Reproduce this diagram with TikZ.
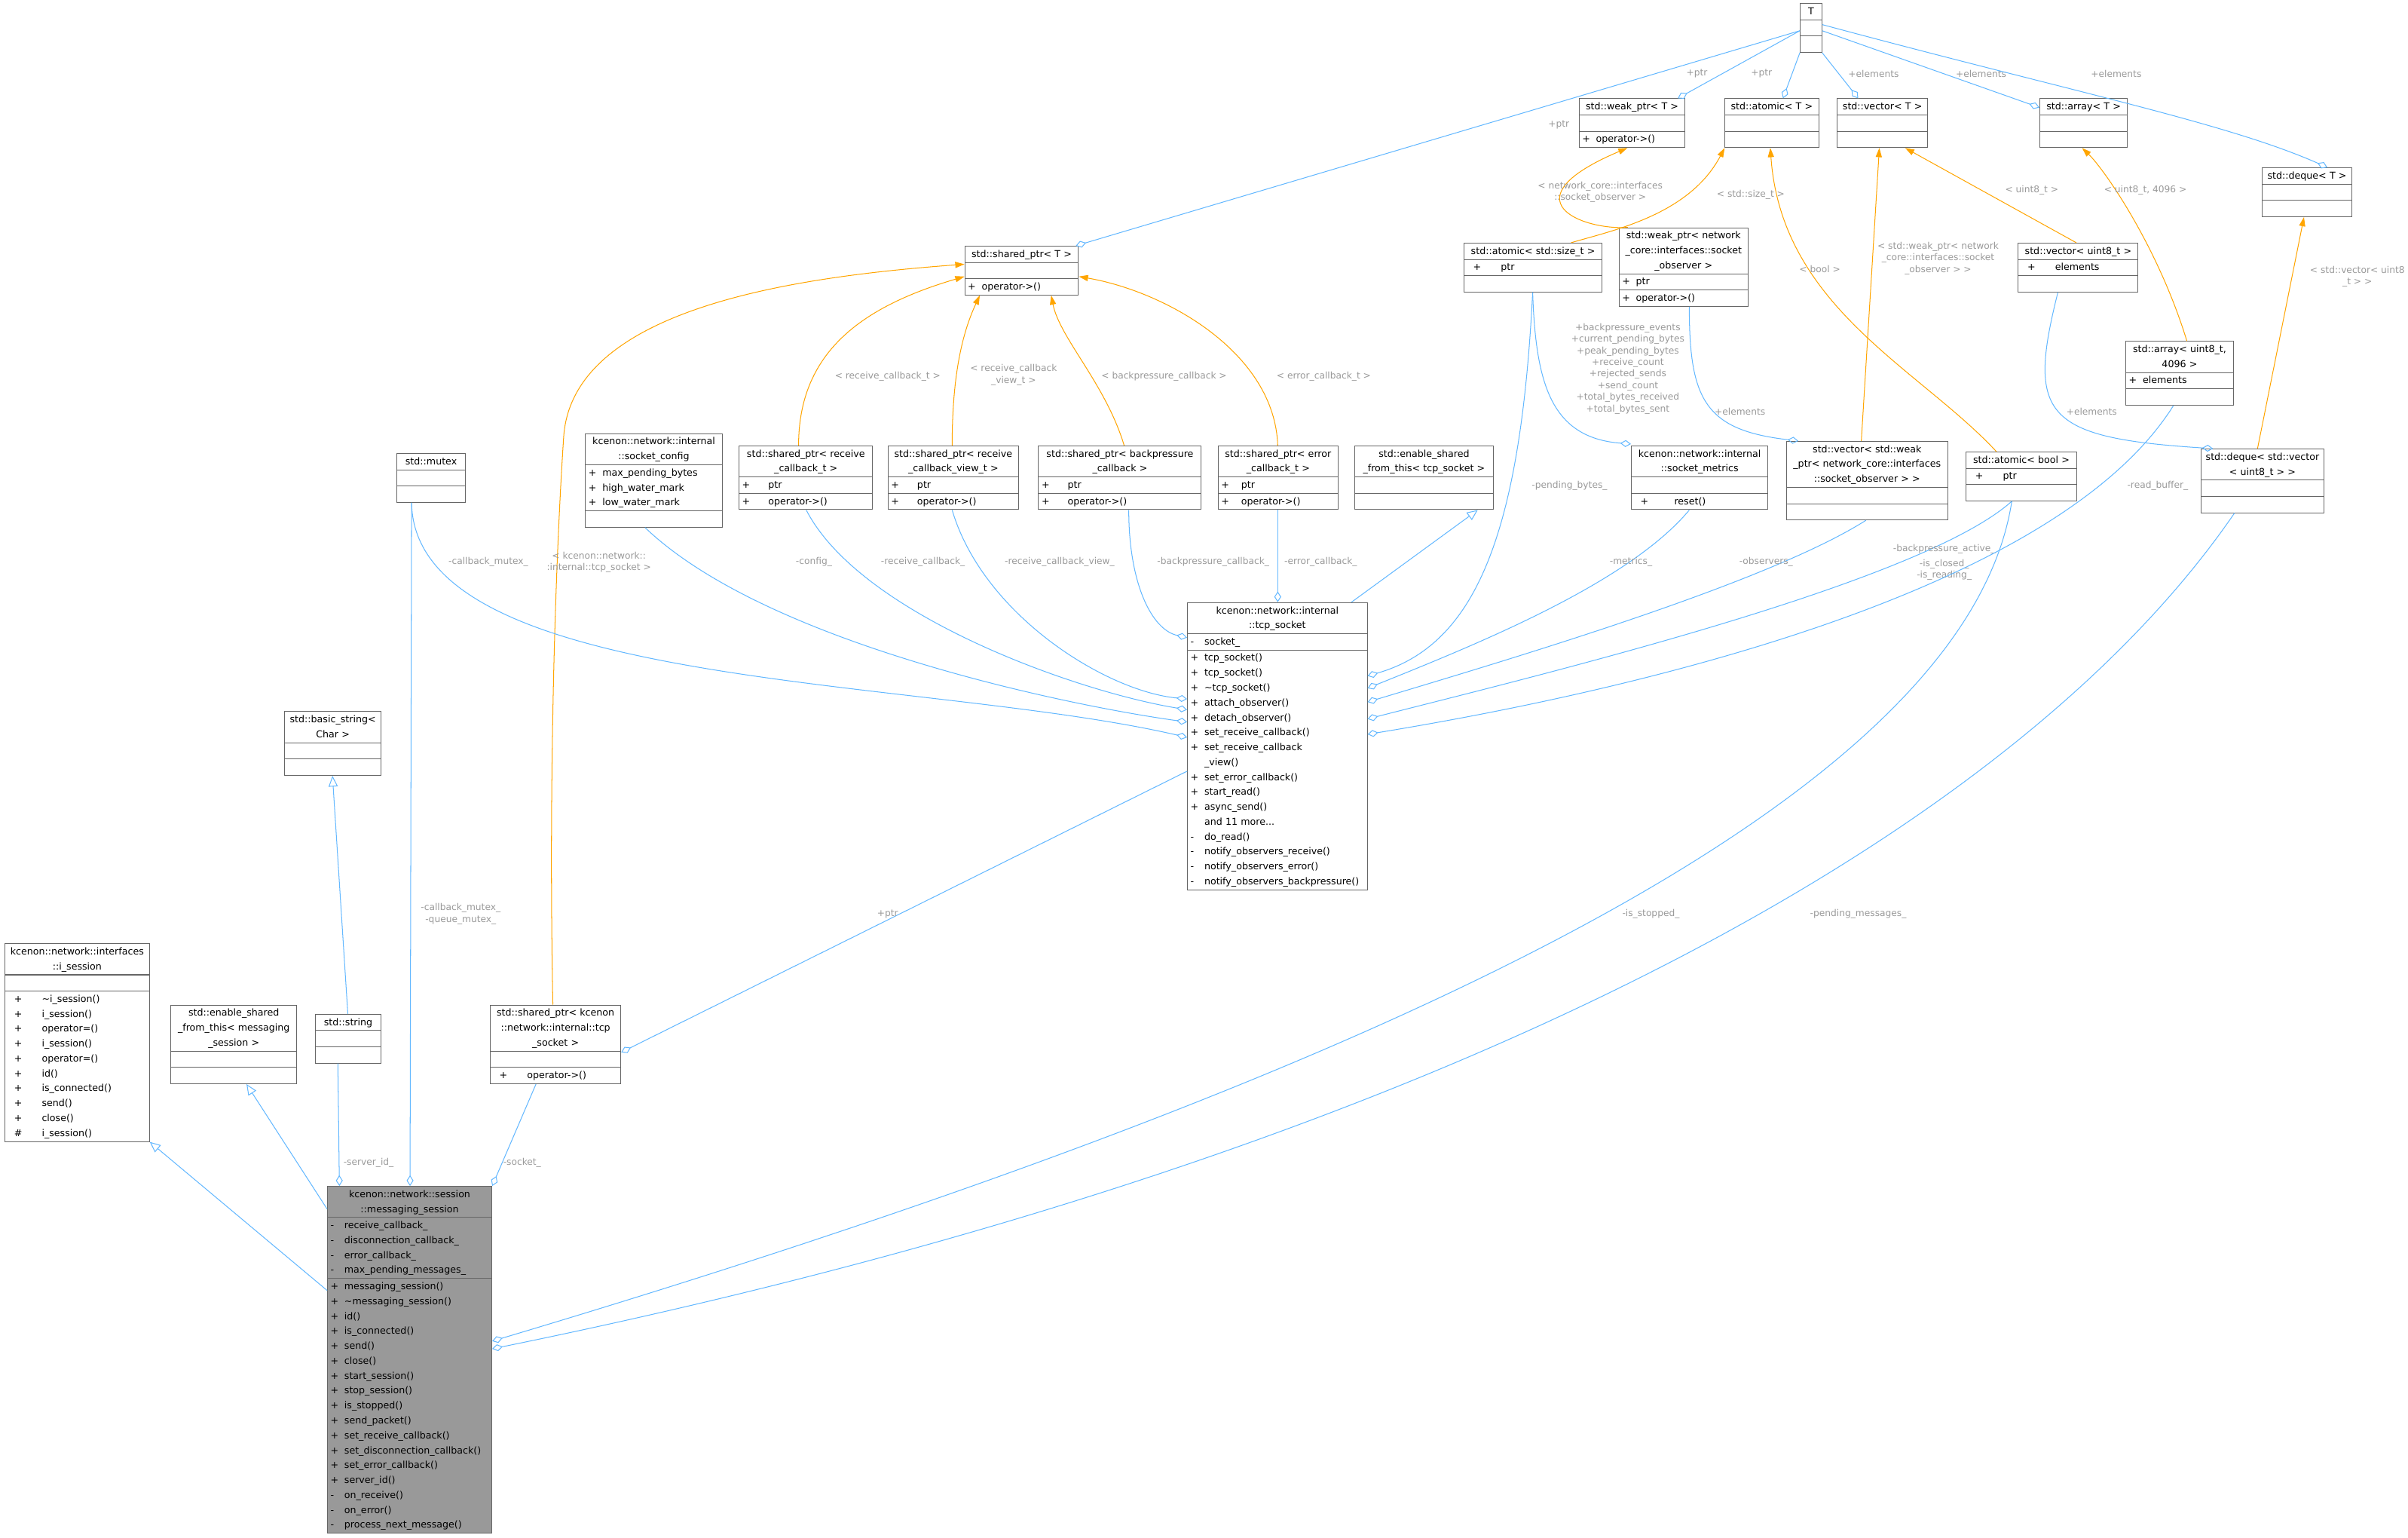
\documentclass[tikz,border=0pt]{standalone}
\usepackage{fontspec}
\setmainfont{DejaVu Sans}
\usetikzlibrary{shapes.multipart,arrows.meta}
\definecolor{ublue}{HTML}{63B8FF}
\definecolor{uorange}{HTML}{FFA500}
\definecolor{labgray}{HTML}{9A9A9A}
\definecolor{bordergray}{HTML}{666666}
\definecolor{msgray}{HTML}{999999}
\newcommand\m[1]{\makebox[9pt][l]{#1}}
\newcommand\mm[1]{\makebox[22pt][l]{\hspace{4pt}#1}}
\newcommand\cls[8][]{\node[cls,#1,text width=#5pt-4pt] (#2) at (#3,#4) {\centering\strut#6\strut\par\nodepart{two}\raggedright\strut#7\strut\par\nodepart{three}\raggedright\strut#8\strut\par};}
\tikzset{
 cls/.style={rectangle split, rectangle split parts=3, draw=bordergray, fill=white, line width=0.5pt,
   anchor=north west, inner xsep=2pt, inner ysep=0.2pt, font=\fontsize{6.2}{9.7}\selectfont},
 use/.style={draw=ublue, line width=0.5pt, -{Diamond[open,length=7pt,width=4.5pt]}},
 tmpl/.style={draw=uorange, line width=0.5pt, -{Triangle[length=6pt,width=4pt]}},
 inh/.style={draw=ublue, line width=0.5pt, -{Triangle[open,length=7pt,width=6pt]}},
 lab/.style={text=labgray, font=\fontsize{6}{7.6}\selectfont, align=center, inner sep=0.5pt}
}
\begin{document}
\begin{tikzpicture}[x=1pt,y=-1pt]
\useasboundingbox[fill=white] (0,0) rectangle (1568,1000.7);
% ---- classes
\cls{T}{1172}{2}{14}{T}{}{}
\cls{wpT}{1028}{64}{69}{std::weak\_ptr< T >}{}{\m{+}operator->()}
\cls{atT}{1123}{64}{61}{std::atomic< T >}{}{}
\cls{vecT}{1196}{64}{59}{std::vector< T >}{}{}
\cls{arrT}{1328}{64}{57}{std::array< T >}{}{}
\cls{dqT}{1473}{109}{58}{std::deque< T >}{}{}
\cls{spT}{628}{160}{74}{std::shared\_ptr< T >}{}{\m{+}operator->()}
\cls{atsz}{953}{158}{90}{std::atomic< std::size\_t >}{\mm{+}ptr}{}
\cls{wpobs}{1054}{148}{84}{std::weak\_ptr< network\\\_core::interfaces::socket\\\_observer >}{\m{+}ptr}{\m{+}operator->()}
\cls{vecu8}{1314}{158}{78}{std::vector< uint8\_t >}{\mm{+}elements}{}
\cls{arru8}{1384}{222}{70}{std::array< uint8\_t,\\4096 >}{\m{+}elements}{}
\cls{dqvec}{1433}{292}{80}{std::deque< std::vector\\< uint8\_t > >}{}{}
\cls{cfg}{381}{282}{89}{kcenon::network::internal\\::socket\_config}{\m{+}max\_pending\_bytes\\\m{+}high\_water\_mark\\\m{+}low\_water\_mark}{}
\cls{sprc}{481}{290}{87}{std::shared\_ptr< receive\\\_callback\_t >}{\m{+}\hspace{8pt}ptr}{\m{+}\hspace{8pt}operator->()}
\cls{sprv}{578}{290}{85}{std::shared\_ptr< receive\\\_callback\_view\_t >}{\m{+}\hspace{8pt}ptr}{\m{+}\hspace{8pt}operator->()}
\cls{spbp}{676}{290}{106}{std::shared\_ptr< backpressure\\\_callback >}{\m{+}\hspace{8pt}ptr}{\m{+}\hspace{8pt}operator->()}
\cls{sperr}{793}{290}{78}{std::shared\_ptr< error\\\_callback\_t >}{\m{+}\hspace{4pt}ptr}{\m{+}\hspace{4pt}operator->()}
\cls{esft}{882}{290}{90}{std::enable\_shared\\\_from\_this< tcp\_socket >}{}{}
\cls{mutex}{258}{295}{45}{std::mutex}{}{}
\cls{metrics}{1062}{290}{89}{kcenon::network::internal\\::socket\_metrics}{}{\mm{+}\hspace{4pt}reset()}
\cls{vecobs}{1163}{287}{105}{std::vector< std::weak\\\_ptr< network\_core::interfaces\\::socket\_observer > >}{}{}
\cls{atb}{1280}{294}{72}{std::atomic< bool >}{\mm{+}ptr}{}
\cls{tcp}{773}{392}{117}{kcenon::network::internal\\::tcp\_socket}{\m{-}socket\_}{\m{+}tcp\_socket()\\\m{+}tcp\_socket()\\\m{+}\textasciitilde tcp\_socket()\\\m{+}attach\_observer()\\\m{+}detach\_observer()\\\m{+}set\_receive\_callback()\\\m{+}set\_receive\_callback\\\m{}\_view()\\\m{+}set\_error\_callback()\\\m{+}start\_read()\\\m{+}async\_send()\\\m{}and 11 more...\\\m{-}do\_read()\\\m{-}notify\_observers\_receive()\\\m{-}notify\_observers\_error()\\\m{-}notify\_observers\_backpressure()}
\cls{bstr}{185}{463}{63}{std::basic\_string<\\Char >}{}{}
\cls{str}{205}{660}{43}{std::string}{}{}
\cls{esfm}{111}{654}{82}{std::enable\_shared\\\_from\_this< messaging\\\_session >}{}{}
\cls{isess}{3}{614}{94}{kcenon::network::interfaces\\::i\_session}{}{\mm{+}\textasciitilde i\_session()\\\mm{+}i\_session()\\\mm{+}operator=()\\\mm{+}i\_session()\\\mm{+}operator=()\\\mm{+}id()\\\mm{+}is\_connected()\\\mm{+}send()\\\mm{+}close()\\\mm{\#}i\_session()}
\cls{sptcp}{319}{654}{85}{std::shared\_ptr< kcenon\\::network::internal::tcp\\\_socket >}{}{\mm{+}operator->()}
\cls[fill=msgray]{msg}{213}{772}{107}{kcenon::network::session\\::messaging\_session}{\m{-}receive\_callback\_\\\m{-}disconnection\_callback\_\\\m{-}error\_callback\_\\\m{-}max\_pending\_messages\_}{\m{+}messaging\_session()\\\m{+}\textasciitilde messaging\_session()\\\m{+}id()\\\m{+}is\_connected()\\\m{+}send()\\\m{+}close()\\\m{+}start\_session()\\\m{+}stop\_session()\\\m{+}is\_stopped()\\\m{+}send\_packet()\\\m{+}set\_receive\_callback()\\\m{+}set\_disconnection\_callback()\\\m{+}set\_error\_callback()\\\m{+}server\_id()\\\m{-}on\_receive()\\\m{-}on\_error()\\\m{-}process\_next\_message()}
\coordinate (via) at (367,285);
% ---- inheritance
\draw[inh] ([yshift=-68pt]msg.north west) -- (isess.south east);
\draw[inh] ([yshift=-15pt]msg.north west) -- ([xshift=-33pt]esfm.south east);
\draw[inh] ([xshift=-22pt]str.north east) -- ([xshift=-32pt]bstr.south east);
\draw[inh] ([xshift=107pt]tcp.north west) -- ([xshift=35pt]esft.south);
% ---- usage to messaging_session
\draw[use] ([xshift=15pt]str.south west) -- ([xshift=8pt]msg.north west);
\node[lab] (l1) at (240,757) {-server\_id\_};
\draw[use] ([xshift=10pt]mutex.south west) -- ([xshift=54pt]msg.north west);
\node[lab] (l2) at (300,595) {-callback\_mutex\_\\-queue\_mutex\_};
\draw[use] ([xshift=30pt]sptcp.south west) -- (msg.north east);
\node[lab] (l3) at (340,757) {-socket\_};
\draw[use] ([xshift=30pt]atb.south west) .. controls (1280,520) and (900,700) .. ([yshift=-101pt]msg.north east);
\node[lab] (l4) at (1075,595) {-is\_stopped\_};
\draw[use] ([xshift=22pt]dqvec.south west) .. controls (1300,560) and (900,760) .. ([yshift=-106pt]msg.north east);
\node[lab] (l5) at (1210,595) {-pending\_messages\_};
% ---- tcp_socket usages
\draw[use] ([yshift=-110pt]tcp.north west) -- ([yshift=-31pt]sptcp.north east);
\node[lab] (l6) at (578,595) {+ptr};
\draw[tmpl] ([xshift=41pt]sptcp.north west) .. controls (357,500) and (362,360) .. (via) .. controls (372,200) and (520,180) .. ([yshift=-12pt]spT.north west);
\node[lab] (l7) at (390,366) {< kcenon::network::\\:internal::tcp\_socket >};
\draw[use] ([xshift=10pt]mutex.south west) .. controls (270,450) and (600,440) .. ([yshift=-88pt]tcp.north west);
\node[lab] (l8) at (318,366) {-callback\_mutex\_};
\draw[use] ([xshift=39pt]cfg.south west) .. controls (500,420) and (700,460) .. ([yshift=-78pt]tcp.north west);
\node[lab] (l9) at (530,366) {-config\_};
\draw[use] ([xshift=44pt]sprc.south west) .. controls (560,400) and (700,450) .. ([yshift=-70pt]tcp.north west);
\node[lab] (l10) at (601,366) {-receive\_callback\_};
\draw[use] ([xshift=42pt]sprv.south west) .. controls (640,400) and (720,450) .. ([yshift=-63pt]tcp.north west);
\node[lab] (l11) at (690,366) {-receive\_callback\_view\_};
\draw[use] ([xshift=59pt]spbp.south west) .. controls (735,380) and (750,410) .. ([yshift=-23pt]tcp.north west);
\node[lab] (l12) at (790,366) {-backpressure\_callback\_};
\draw[use] ([xshift=39pt]sperr.south west) -- ([xshift=59pt]tcp.north west);
\node[lab] (l13) at (860,366) {-error\_callback\_};
\draw[use] ([xshift=45pt]atsz.south west) .. controls (990,350) and (960,420) .. ([yshift=-48pt]tcp.north east);
\node[lab] (l14) at (1022,316) {-pending\_bytes\_};
\draw[use] ([xshift=38pt]metrics.south west) .. controls (1060,380) and (960,420) .. ([yshift=-56pt]tcp.north east);
\node[lab] (l15) at (1062,366) {-metrics\_};
\draw[use] ([xshift=52pt]vecobs.south west) .. controls (1150,380) and (980,430) .. ([yshift=-65pt]tcp.north east);
\node[lab] (l16) at (1150,366) {-observers\_};
\draw[use] ([xshift=30pt]atb.south west) .. controls (1250,380) and (1000,440) .. ([yshift=-76pt]tcp.north east);
\node[lab] (l17) at (1266,366) {-backpressure\_active\_\\[2pt]-is\_closed\_\\-is\_reading\_};
\draw[use] ([xshift=-4pt]arru8.south) .. controls (1330,400) and (1000,460) .. ([yshift=-86pt]tcp.north east);
\node[lab] (l18) at (1405,316) {-read\_buffer\_};
% ---- template instantiations
\draw[tmpl] ([xshift=39pt]sprc.north west) .. controls (520,230) and (560,200) .. ([yshift=-20pt]spT.north west);
\node[lab] (l19) at (578,245) {< receive\_callback\_t >};
\draw[tmpl] ([xshift=42pt]sprv.north west) .. controls (620,250) and (625,220) .. ([xshift=10pt]spT.south west);
\node[lab] (l20) at (660,244) {< receive\_callback\\\_view\_t >};
\draw[tmpl] ([xshift=56pt]spbp.north west) .. controls (720,250) and (690,220) .. ([xshift=-18pt]spT.south east);
\node[lab] (l21) at (758,245) {< backpressure\_callback >};
\draw[tmpl] ([xshift=39pt]sperr.north west) .. controls (830,230) and (760,190) .. ([yshift=-20pt]spT.north east);
\node[lab] (l22) at (862,245) {< error\_callback\_t >};
\draw[tmpl] ([xshift=70pt]atsz.north west) .. controls (1050,150) and (1100,140) .. (atT.south west);
\node[lab] (l23) at (1140,127) {< std::size\_t >};
\draw[tmpl] ([xshift=6pt]wpobs.north west) .. controls (1030,150) and (980,130) .. ([xshift=-3pt]wpT.south);
\node[lab] (l24) at (1042,125) {< network\_core::interfaces\\::socket\_observer >};
\draw[tmpl] ([xshift=20pt]atb.north west) .. controls (1250,240) and (1160,200) .. ([xshift=-1pt]atT.south);
\node[lab] (l25) at (1185,175) {< bool >};
\draw[tmpl] ([xshift=49pt]vecobs.north west) -- ([xshift=-2pt]vecT.south);
\node[lab] (l26) at (1262,168) {< std::weak\_ptr< network\\\_core::interfaces::socket\\\_observer > >};
\draw[tmpl] ([xshift=38pt]vecu8.north west) -- ([xshift=-15pt]vecT.south east);
\node[lab] (l27) at (1323,124) {< uint8\_t >};
\draw[tmpl] ([xshift=40pt]arru8.north west) .. controls (1405,160) and (1370,110) .. ([xshift=-1pt]arrT.south);
\node[lab] (l28) at (1397,124) {< uint8\_t, 4096 >};
\draw[tmpl] ([xshift=37pt]dqvec.north west) -- ([xshift=-2pt]dqT.south);
\node[lab] (l29) at (1535,180) {< std::vector< uint8\\\_t > >};
% ---- from T
\draw[use] ([yshift=-18pt]T.north west) -- ([xshift=-2pt]spT.north east);
\node[lab] (l30) at (1015,81) {+ptr};
\draw[use] ([yshift=-18pt]T.north west) -- ([xshift=-5pt]wpT.north east);
\node[lab] (l31) at (1105,48) {+ptr};
\draw[use] ([xshift=0pt]T.south west) -- ([xshift=38pt]atT.north west);
\node[lab] (l32) at (1147,48) {+ptr};
\draw[use] ([xshift=0pt]T.south east) -- ([xshift=14pt]vecT.north west);
\node[lab] (l33) at (1220,48) {+elements};
\draw[use] ([yshift=-18pt]T.north east) -- ([yshift=-6pt]arrT.north west);
\node[lab] (l34) at (1290,48) {+elements};
\draw[use] ([yshift=-14pt]T.north east) .. controls (1350,60) and (1450,80) .. ([xshift=-16pt]dqT.north east);
\node[lab] (l35) at (1378,48) {+elements};
% ---- member-type edges
\draw[use] ([xshift=45pt]atsz.south west) .. controls (1000,250) and (1010,285) .. ([yshift=1pt]metrics.north west);
\node[lab] (l36) at (1060,240) {+backpressure\_events\\+current\_pending\_bytes\\+peak\_pending\_bytes\\+receive\_count\\+rejected\_sends\\+send\_count\\+total\_bytes\_received\\+total\_bytes\_sent};
\draw[use] ([xshift=46pt]wpobs.south west) .. controls (1100,260) and (1110,280) .. ([xshift=8pt]vecobs.north west);
\node[lab] (l37) at (1133,268) {+elements};
\draw[use] ([xshift=26pt]vecu8.south west) .. controls (1320,270) and (1330,285) .. ([xshift=8pt]dqvec.north west);
\node[lab] (l38) at (1362,268) {+elements};
\end{tikzpicture}
\end{document}
